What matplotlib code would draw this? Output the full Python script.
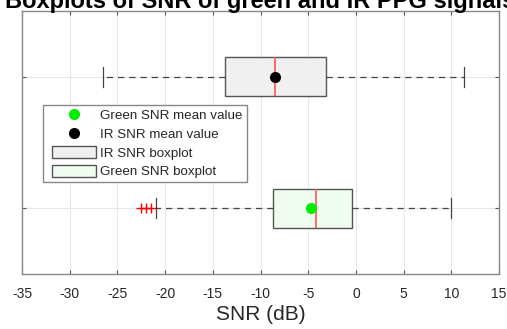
import matplotlib.pyplot as plt
from matplotlib.patches import Patch
from matplotlib.lines import Line2D
from matplotlib.legend_handler import HandlerPatch, HandlerLine2D

plt.rcParams['font.family'] = ['Liberation Sans', 'DejaVu Sans']
plt.rcParams['axes.unicode_minus'] = False

# box statistics (dB)
groups = ['Green', 'IR']
positions = [1, 2]
whislo = [-21.0, -26.5]
q1 = [-8.7, -13.7]
med = [-4.2, -8.5]
q3 = [-0.4, -3.1]
whishi = [10.0, 11.3]
means = [-4.7, -8.5]
fliers = [[-22.5, -22.0, -21.5], []]
face_colors = ['#effcef', '#f0f0f0']
mean_colors = ['#00ee00', 'black']

stats = []
for i in range(len(groups)):
    stats.append(dict(whislo=whislo[i], q1=q1[i], med=med[i], q3=q3[i],
                      whishi=whishi[i], fliers=fliers[i], label=groups[i]))

fig = plt.figure(figsize=(5.07, 3.29), dpi=100)
ax = fig.add_axes([22 / 507, 1 - 274 / 329, 477 / 507, 263 / 329])

bp = ax.bxp(stats, positions=positions, vert=False, widths=0.3,
            patch_artist=True, showfliers=True,
            boxprops=dict(edgecolor='#555555', linewidth=1.0),
            medianprops=dict(color='#ff5555', linewidth=1.2),
            whiskerprops=dict(color='#444444', linestyle=(0, (5, 4)), linewidth=0.9),
            capprops=dict(color='#444444', linewidth=0.9),
            capwidths=0.15,
            flierprops=dict(marker='+', markeredgecolor='red', markersize=7,
                            markeredgewidth=1.0, linestyle='none'))
for patch, fc in zip(bp['boxes'], face_colors):
    patch.set_facecolor(fc)

for i in range(len(groups)):
    ax.plot(means[i], positions[i], 'o', color=mean_colors[i], markersize=7, zorder=5)

ax.set_xlim(-35, 15)
ax.set_ylim(0.5, 2.5)
ax.set_xticks(range(-35, 16, 5))
ax.set_yticks(positions)
ax.set_yticklabels([])
ax.grid(True, color='#e6e6e6', linewidth=0.8)
ax.set_axisbelow(True)
ax.tick_params(direction='in', top=True, right=True, length=3, color='#555555',
               labelsize=10, pad=9, labelcolor='#262626')
for sp in ax.spines.values():
    sp.set_color('#888888')
    sp.set_linewidth(1.0)

ax.set_xlabel('SNR (dB)', fontsize=15, labelpad=3, color='#262626')
fig.text(260 / 507, 1 - 8 / 329, 'Boxplots of SNR of green and IR PPG signals', ha='center',
         va='baseline', fontsize=17, fontweight='bold')

handles = [
    Line2D([], [], marker='o', color='#00ee00', linestyle='none', markersize=7),
    Line2D([], [], marker='o', color='black', linestyle='none', markersize=7),
    Patch(facecolor='#f0f0f0', edgecolor='#555555'),
    Patch(facecolor='#effcef', edgecolor='#555555'),
]
labels = ['Green SNR mean value', 'IR SNR mean value', 'IR SNR boxplot', 'Green SNR boxplot']
hmap = {Patch: HandlerPatch(xpad=0.38), Line2D: HandlerLine2D(xpad=0.38)}
leg = ax.legend(handles, labels, loc='upper left', bbox_to_anchor=(0.044, 0.643),
                fontsize=9.6, fancybox=False, framealpha=1, edgecolor='#888888',
                handlelength=3.7, handleheight=1.0, labelspacing=0.38,
                borderpad=0.3, handletextpad=0.3, borderaxespad=0, handler_map=hmap)
for t in leg.get_texts():
    t.set_color('#262626')

fig.savefig('out.png', dpi=100)
